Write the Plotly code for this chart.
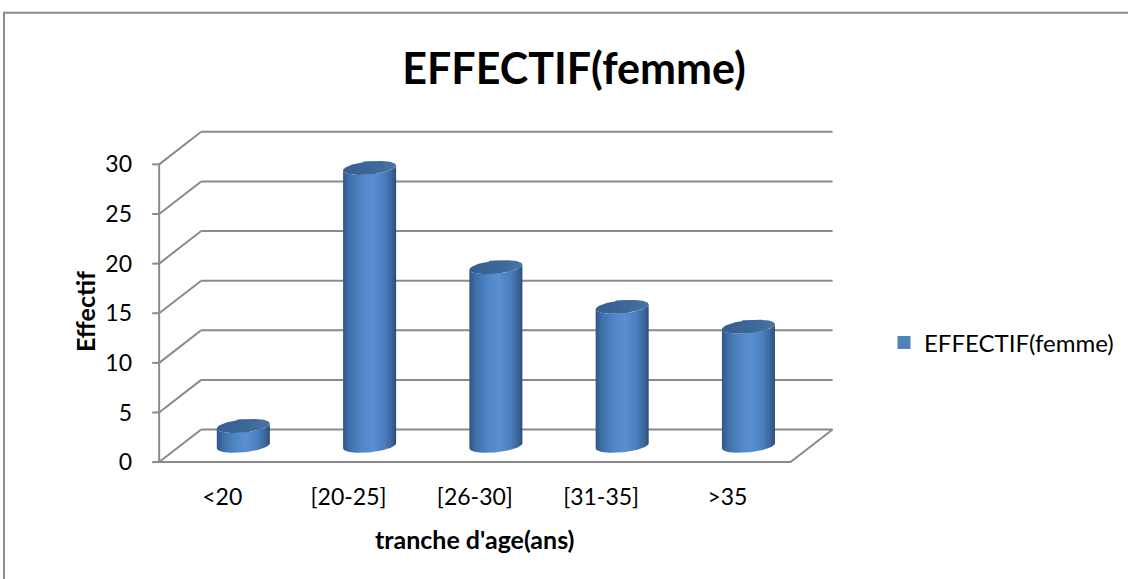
import numpy as np
import plotly.graph_objects as go

# ---- data -------------------------------------------------------------
categories = ["<20", "[20-25]", "[26-30]", "[31-35]", ">35"]
effectif = [2, 28, 18, 14, 12]
y_tick_values = [0, 5, 10, 15, 20, 25, 30]
series_name = "EFFECTIF(femme)"
chart_title = "EFFECTIF(femme)"
x_title = "tranche d'age(ans)"
y_title = "Effectif"

# ---- pseudo-3D geometry (axis units) ----------------------------------
DEPTH_X = 0.333      # horizontal shift of the back wall
DEPTH_Y = 3.28       # vertical shift of the back wall
RX = 0.21            # cylinder radius along x
RY = 0.66            # ellipse half-height along y
TILT = 0.25          # slight tilt of the cylinder caps
TICK_LEN = 0.055     # front-axis tick length

X_RANGE = [-0.62, 4.86]
Y_RANGE = [-1.0, 34.47]

GRID = "#8a8a8a"
FONT = "Lato"

n = len(categories)
x_left = -0.5
x_right = n - 0.5
y_top = max(y_tick_values)

fig = go.Figure()

# walls, floor and front axis as one broken polyline
gx, gy = [], []
for v in y_tick_values:
    # back wall line
    gx += [x_left + DEPTH_X, x_right + DEPTH_X, None]
    gy += [v + DEPTH_Y, v + DEPTH_Y, None]
    # side wall diagonal
    gx += [x_left, x_left + DEPTH_X, None]
    gy += [v, v + DEPTH_Y, None]
    # tick mark on the front axis
    gx += [x_left - TICK_LEN, x_left, None]
    gy += [v, v, None]
# front axis
gx += [x_left, x_left, None]
gy += [0, y_top, None]
# floor front edge and right edge
gx += [x_left, x_right, x_right + DEPTH_X, None]
gy += [0, 0, DEPTH_Y, None]

fig.add_trace(go.Scatter(
    x=gx, y=gy, mode="lines",
    line=dict(color=GRID, width=2),
    hoverinfo="skip", showlegend=False,
))

centers = [i + DEPTH_X / 2 for i in range(n)]
base = DEPTH_Y / 2
tops = [base + v for v in effectif]

# value markers (hidden behind the cylinder caps) -- also give the legend key
fig.add_trace(go.Scatter(
    x=centers, y=tops, mode="markers",
    marker=dict(symbol="square", size=13, color="#4f81bd"),
    name=series_name, showlegend=True,
    hovertemplate="%{customdata}: %{text}<extra></extra>",
    customdata=categories, text=effectif,
))


def cap(xc, yc, t):
    return (xc + RX * np.cos(t),
            yc + RY * np.sin(t) + TILT * np.cos(t))


body_scale = [
    [0.0, "#2f5788"],
    [0.12, "#406fa9"],
    [0.35, "#5086c6"],
    [0.55, "#5990d2"],
    [0.78, "#4a7dbd"],
    [0.92, "#3b6599"],
    [1.0, "#2b4c78"],
]
cap_scale = [
    [0.0, "#365e90"],
    [0.6, "#3e6899"],
    [1.0, "#4873a6"],
]

for xc, yt in zip(centers, tops):
    t_low = np.linspace(np.pi, 2 * np.pi, 60)
    bx, by = cap(xc, base, t_low)
    tx, ty = cap(xc, yt, t_low[::-1])
    fig.add_trace(go.Scatter(
        x=np.concatenate([bx, tx]), y=np.concatenate([by, ty]),
        fill="toself", mode="lines", line=dict(width=0),
        fillgradient=dict(type="horizontal", colorscale=body_scale,
                          start=xc - RX, stop=xc + RX),
        hoverinfo="skip", showlegend=False,
    ))
    t_all = np.linspace(0, 2 * np.pi, 100)
    cx, cy = cap(xc, yt, t_all)
    fig.add_trace(go.Scatter(
        x=cx, y=cy, fill="toself", mode="lines", line=dict(width=0),
        fillgradient=dict(type="horizontal", colorscale=cap_scale,
                          start=xc - RX, stop=xc + RX),
        hoverinfo="skip", showlegend=False,
    ))

fig.update_layout(
    width=1128, height=579,
    margin=dict(l=144, r=292, t=120, b=107),
    paper_bgcolor="white", plot_bgcolor="white",
    font=dict(family=FONT, color="#000000", size=23),
    title=dict(
        text=chart_title, x=574 / 1128, y=1 - 69 / 579,
        xref="container", yref="container",
        xanchor="center", yanchor="middle",
        font=dict(family=FONT, size=43, weight="bold", color="#000000"),
    ),
    xaxis=dict(
        range=X_RANGE, showgrid=False, zeroline=False, showline=False,
        tickmode="array", tickvals=list(range(n)), ticktext=categories,
        ticks="", ticklabelstandoff=9,
        tickfont=dict(family=FONT, size=23, color="#000000"),
    ),
    yaxis=dict(
        range=Y_RANGE, showgrid=False, zeroline=False, showline=False,
        tickmode="array", tickvals=y_tick_values,
        ticks="", ticklabelstandoff=11,
        tickfont=dict(family=FONT, size=23, color="#000000"),
    ),
    legend=dict(
        xref="container", yref="container",
        x=884 / 1128, y=1 - 343 / 579, xanchor="left", yanchor="middle",
        font=dict(family=FONT, size=24, color="#000000"),
        bgcolor="rgba(0,0,0,0)",
    ),
    annotations=[
        dict(text=x_title, x=2.0, xref="x", y=-0.19, yref="paper",
             showarrow=False, xanchor="center", yanchor="middle",
             font=dict(family=FONT, size=25, weight="bold", color="#000000")),
        dict(text=y_title, x=-0.0853, xref="paper", y=0.457, yref="paper",
             textangle=-90, showarrow=False, xanchor="center", yanchor="middle",
             font=dict(family=FONT, size=25, weight="bold", color="#000000")),
    ],
    shapes=[
        dict(type="rect", xref="paper", yref="paper",
             x0=-0.2023, x1=1.6, y0=-0.6, y1=1.305,
             line=dict(color="#8c8c8c", width=2), layer="below"),
    ],
    hovermode="closest",
)

fig.write_html("out.html")
